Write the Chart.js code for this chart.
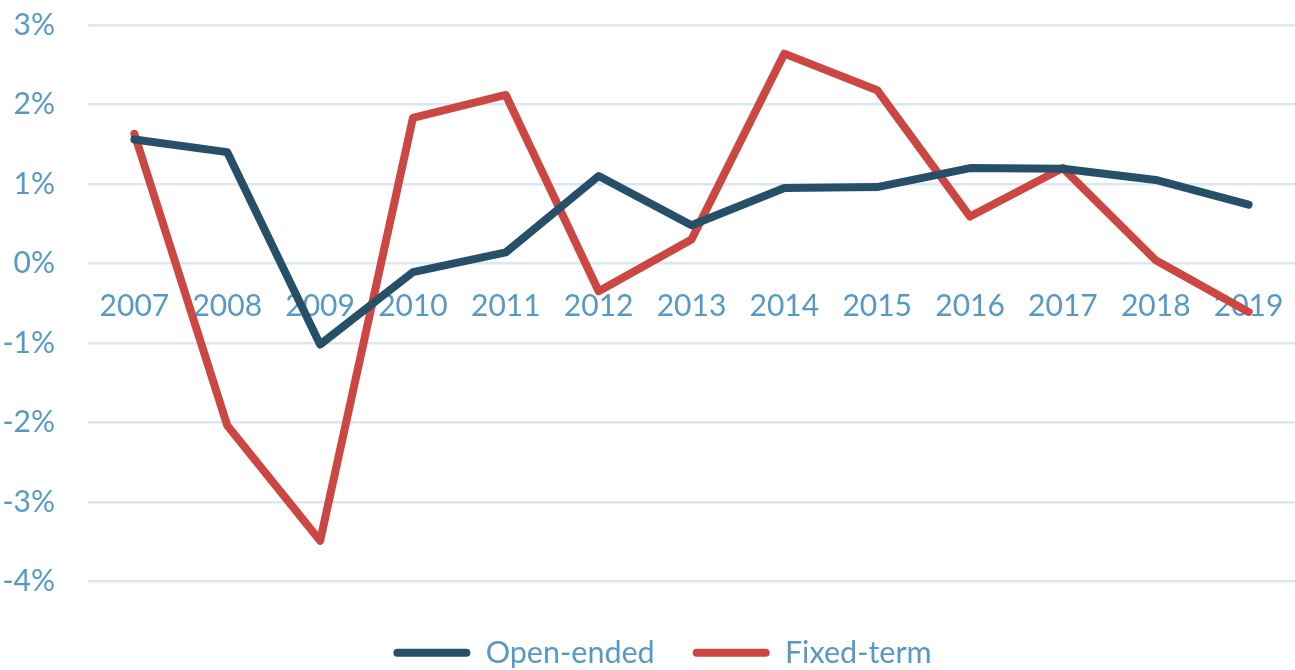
<!DOCTYPE html>
<html>
<head>
<meta charset="utf-8">
<script src="https://cdn.jsdelivr.net/npm/chart.js@4"></script>
<style>
  html, body { margin: 0; padding: 0; background: #ffffff; }
  #wrap { width: 1295px; height: 670px; position: relative; }
</style>
</head>
<body>
<div id="wrap"><canvas id="c" width="1295" height="670"></canvas></div>
<script>
const years = ['2007','2008','2009','2010','2011','2012','2013','2014','2015','2016','2017','2018','2019'];
const openEnded = [1.56, 1.40, -1.02, -0.11, 0.14, 1.10, 0.48, 0.95, 0.96, 1.20, 1.19, 1.05, 0.74];
const fixedTerm = [1.63, -2.04, -3.49, 1.83, 2.12, -0.35, 0.30, 2.64, 2.18, 0.59, 1.20, 0.04, -0.61];
const yTicks = [-4, -3, -2, -1, 0, 1, 2, 3];

const textColor = '#5699c6';
const gridColor = '#d9e8f2';
const font = 'Lato, "Open Sans", "Liberation Sans", sans-serif';

const shiftLegend = {
  id: 'shiftLegend',
  afterLayout(chart) {
    if (chart.legend) { chart.legend.left += 15; chart.legend.right += 15; }
  }
};

new Chart(document.getElementById('c'), {
  type: 'line',
  data: {
    labels: years,
    datasets: [
      { label: 'Open-ended', data: openEnded, borderColor: '#255068', backgroundColor: '#255068',
        borderWidth: 8, pointRadius: 0, tension: 0, borderCapStyle: 'round', borderJoinStyle: 'round' },
      { label: 'Fixed-term', data: fixedTerm, borderColor: '#cc4642', backgroundColor: '#cc4642',
        borderWidth: 8, pointRadius: 0, tension: 0, borderCapStyle: 'round', borderJoinStyle: 'round' }
    ]
  },
  plugins: [shiftLegend],
  options: {
    responsive: false,
    animation: false,
    layout: { padding: { top: 25, right: 0, left: 0, bottom: -8 } },
    plugins: {
      tooltip: { enabled: false },
      legend: {
        position: 'bottom',
        title: { display: true, text: '', font: { size: 1 }, padding: { top: 17, bottom: 0 } },
        labels: {
          color: textColor,
          font: { family: font, size: 30.5 },
          boxWidth: 77,
          boxHeight: 8,
          padding: 38,
          generateLabels(chart) {
            return chart.data.datasets.map((ds, i) => ({
              text: ds.label,
              fillStyle: ds.borderColor,
              strokeStyle: ds.borderColor,
              lineWidth: 0,
              fontColor: textColor,
              borderRadius: 4,
              datasetIndex: i,
              hidden: false
            }));
          },
          useBorderRadius: true,
          borderRadius: 4
        }
      }
    },
    scales: {
      x: {
        position: { y: 0 },
        offset: true,
        afterFit(scale) { scale.paddingLeft = 0; scale.paddingRight = 0; },
        grid: { display: false, drawTicks: false },
        border: { display: false },
        ticks: { color: textColor, font: { family: font, size: 30 }, padding: 25, maxRotation: 0, autoSkip: false }
      },
      y: {
        min: -4,
        max: 3,
        afterFit(scale) { scale.width = 88; scale.paddingTop = 0; scale.paddingBottom = 0; },
        afterBuildTicks(scale) { scale.ticks = yTicks.map(v => ({ value: v })); },
        grid: { color: gridColor, lineWidth: 2.5, drawTicks: false },
        border: { display: false },
        ticks: {
          color: textColor,
          font: { family: font, size: 30 },
          padding: 33,
          callback: v => v + '%'
        }
      }
    }
  }
});
</script>
</body>
</html>
